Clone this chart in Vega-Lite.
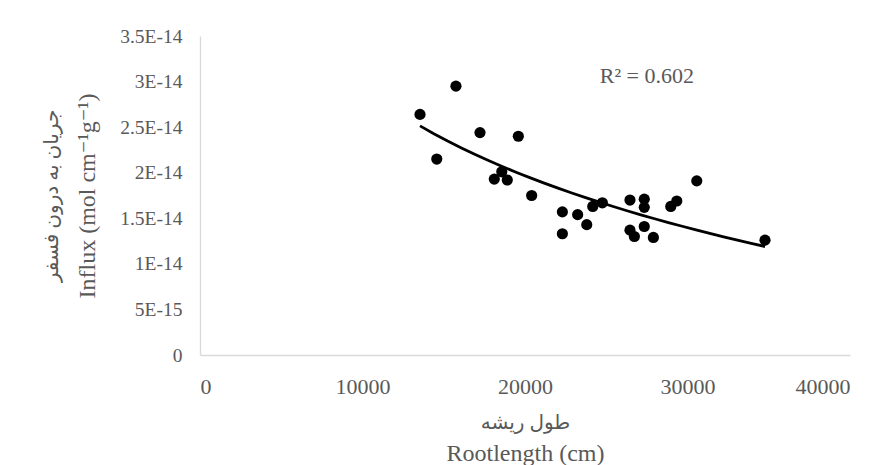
{
  "$schema": "https://vega.github.io/schema/vega-lite/v6.json",
  "width": 650,
  "height": 319,
  "autosize": {"type": "none"},
  "padding": {"left": 200, "top": 36, "right": 30, "bottom": 110},
  "background": "white",
  "config": {
    "view": {"stroke": null},
    "font": "Liberation Serif",
    "axis": {
      "grid": false,
      "ticks": false,
      "tickSize": 0,
      "domainColor": "#d9d9d9",
      "domainWidth": 1.3,
      "labelColor": "#595959",
      "titleColor": "#595959",
      "labelFont": "Liberation Serif",
      "titleFont": "Liberation Serif, DejaVu Sans",
      "titleFontWeight": "normal"
    }
  },
  "data": {
    "values": [
      {"rootlength": 13540, "influx": 2.64e-14},
      {"rootlength": 14570, "influx": 2.15e-14},
      {"rootlength": 15750, "influx": 2.95e-14},
      {"rootlength": 17230, "influx": 2.44e-14},
      {"rootlength": 18110, "influx": 1.93e-14},
      {"rootlength": 18570, "influx": 2.01e-14},
      {"rootlength": 18910, "influx": 1.92e-14},
      {"rootlength": 19590, "influx": 2.40e-14},
      {"rootlength": 20410, "influx": 1.75e-14},
      {"rootlength": 22300, "influx": 1.57e-14},
      {"rootlength": 22300, "influx": 1.33e-14},
      {"rootlength": 23240, "influx": 1.54e-14},
      {"rootlength": 23800, "influx": 1.43e-14},
      {"rootlength": 24170, "influx": 1.63e-14},
      {"rootlength": 24760, "influx": 1.67e-14},
      {"rootlength": 26460, "influx": 1.70e-14},
      {"rootlength": 26460, "influx": 1.37e-14},
      {"rootlength": 26730, "influx": 1.30e-14},
      {"rootlength": 27340, "influx": 1.71e-14},
      {"rootlength": 27340, "influx": 1.62e-14},
      {"rootlength": 27340, "influx": 1.41e-14},
      {"rootlength": 27900, "influx": 1.29e-14},
      {"rootlength": 28970, "influx": 1.63e-14},
      {"rootlength": 29340, "influx": 1.69e-14},
      {"rootlength": 30570, "influx": 1.91e-14},
      {"rootlength": 34770, "influx": 1.26e-14}
    ]
  },
  "layer": [
    {
      "mark": {"type": "circle", "color": "black", "size": 125, "opacity": 1},
      "encoding": {
        "x": {
          "field": "rootlength", "type": "quantitative",
          "scale": {"domain": [0, 40000], "nice": false},
          "axis": {
            "orient": "bottom", "values": [0, 10000, 20000, 30000, 40000], "format": "d",
            "labelFontSize": 22, "labelPadding": 21,
            "title": "Rootlength (cm)", "titleFontSize": 24, "titleY": 105, "titleBaseline": "alphabetic"
          }
        },
        "y": {
          "field": "influx", "type": "quantitative",
          "scale": {"domain": [0, 3.5e-14], "nice": false},
          "axis": {
            "orient": "left",
            "values": [0, 5e-15, 1e-14, 1.5e-14, 2e-14, 2.5e-14, 3e-14, 3.5e-14],
            "labelExpr": "datum.value == 0 ? '0' : upper(format(datum.value, '.2~e'))",
            "labelFontSize": 19.5, "labelPadding": 18,
            "title": "Influx (mol cm⁻¹g⁻¹)", "titleFontSize": 24, "titleX": -106, "titleBaseline": "alphabetic"
          }
        }
      }
    },
    {
      "mark": {"type": "line", "color": "black", "strokeWidth": 2.8},
      "transform": [{"regression": "influx", "on": "rootlength", "method": "log"}],
      "encoding": {
        "x": {
          "field": "rootlength", "type": "quantitative",
          "axis": {
            "orient": "bottom", "labels": false, "domain": false,
            "title": "طول ریشه", "titleFontSize": 20, "titleY": 73, "titleBaseline": "alphabetic"
          }
        },
        "y": {
          "field": "influx", "type": "quantitative",
          "axis": {
            "orient": "left", "labels": false, "domain": false,
            "title": "جریان به درون فسفر", "titleFontSize": 20, "titleX": -143, "titleBaseline": "alphabetic"
          }
        }
      }
    },
    {
      "data": {"values": [{"label": "R² = 0.602"}]},
      "mark": {"type": "text", "fontSize": 22, "color": "#595959", "font": "Liberation Serif"},
      "encoding": {
        "text": {"field": "label", "type": "nominal"},
        "x": {"datum": 27500, "type": "quantitative", "axis": null},
        "y": {"datum": 3.06e-14, "type": "quantitative", "axis": null}
      }
    }
  ],
  "resolve": {"axis": {"x": "independent", "y": "independent"}}
}
